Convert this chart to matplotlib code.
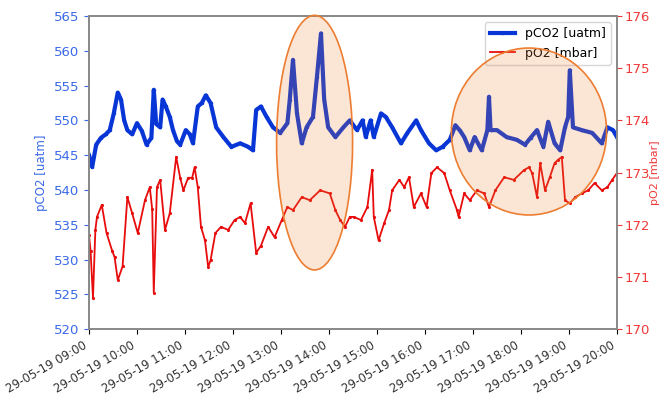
"""pCO2 / pO2 time series on 29-05-19 with highlighted events."""

import matplotlib as mpl
import matplotlib.dates as mdates
import matplotlib.pyplot as plt
import pandas as pd
from matplotlib.patches import Ellipse

mpl.rcdefaults()

# %% data (minutes after 09:00)
t0 = pd.Timestamp("2019-05-29 09:00")

co2_min = [0, 4, 9, 15, 21, 26, 31, 36, 40, 44, 48, 54, 60, 66, 72, 78, 81, 84, 89, 92,
           96, 101, 105, 110, 114, 121, 126, 130, 136, 141, 146, 152, 159, 168, 178, 189,
           199, 205, 209, 215, 222, 230, 239, 248, 251, 255, 260, 266, 272, 280, 285, 290,
           294, 299, 308, 318, 326, 335, 342, 346, 352, 356, 365, 371, 379, 390, 398, 409,
           415, 425, 434, 442, 451, 458, 464, 469, 476, 482, 491, 498, 500, 502, 510, 522,
           535, 545, 552, 560, 568, 574, 582, 589, 595, 599, 601, 605, 616, 629, 641, 648,
           655, 660]
pco2 = [545.0, 543.3, 546.5, 547.5, 548.0, 548.6, 551.0, 554.0, 553.0, 550.0, 548.6, 548.0,
        549.6, 548.5, 546.5, 547.5, 554.4, 549.5, 549.0, 553.0, 552.0, 550.5, 548.6, 547.0,
        546.5, 548.6, 548.0, 546.7, 552.0, 552.5, 553.6, 552.5, 549.0, 547.6, 546.2, 546.7,
        546.2, 545.7, 551.5, 552.0, 550.5, 549.0, 548.2, 549.6, 553.0, 558.7, 551.0, 546.7,
        549.0, 550.5, 556.3, 562.5, 553.0, 549.0, 547.6, 549.0, 550.0, 548.6, 550.0, 547.6,
        550.0, 547.6, 551.0, 550.5, 549.0, 546.7, 548.2, 550.0, 548.6, 546.7, 545.7, 546.2,
        547.2, 549.3, 548.5, 547.6, 545.7, 547.6, 545.7, 548.6, 553.4, 548.6, 548.6, 547.6,
        547.2, 546.5, 547.5, 548.6, 546.2, 549.8, 546.7, 545.7, 549.0, 550.5, 557.2, 549.0,
        548.6, 548.2, 546.7, 549.0, 548.6, 547.6]

o2_min = [0, 2, 5, 8, 10, 16, 22, 29, 32, 36, 42, 48, 54, 61, 70, 76, 79, 81, 85, 89, 95,
          101, 109, 114, 118, 124, 129, 132, 136, 140, 145, 149, 152, 158, 165, 174, 182,
          189, 195, 202, 209, 215, 224, 232, 241, 248, 255, 266, 276, 289, 301, 308, 314,
          320, 326, 331, 340, 348, 354, 356, 362, 369, 375, 379, 388, 394, 400, 406, 415,
          422, 428, 435, 444, 451, 460, 462, 469, 476, 485, 494, 500, 508, 519, 531, 544,
          550, 554, 560, 564, 570, 576, 582, 586, 591, 595, 601, 608, 616, 624, 632, 641,
          648, 654, 660]
po2 = [171.8, 171.5, 170.6, 171.9, 172.15, 172.38, 171.84, 171.5, 171.38, 170.94, 171.2,
       172.53, 172.22, 171.84, 172.47, 172.72, 172.3, 170.7, 172.72, 172.86, 171.9, 172.22,
       173.3, 172.9, 172.66, 172.9, 172.9, 173.1, 172.72, 171.96, 171.7, 171.19, 171.32,
       171.84, 171.96, 171.9, 172.09, 172.15, 172.03, 172.41, 171.46, 171.6, 171.96, 171.76,
       172.09, 172.34, 172.28, 172.53, 172.47, 172.66, 172.6, 172.28, 172.09, 171.96, 172.15,
       172.15, 172.09, 172.34, 173.05, 172.15, 171.7, 172.03, 172.28, 172.66, 172.86, 172.72,
       172.91, 172.34, 172.6, 172.34, 172.99, 173.1, 172.99, 172.66, 172.28, 172.15, 172.6,
       172.47, 172.66, 172.6, 172.34, 172.66, 172.91, 172.86, 173.05, 173.1, 172.99, 172.53,
       173.18, 172.66, 172.91, 173.18, 173.24, 173.3, 172.47, 172.41, 172.53, 172.6, 172.66,
       172.8, 172.66, 172.72, 172.86, 172.99]

# highlighted events: (centre minutes, centre pCO2, width minutes, height pCO2)
events_min = [282, 550]
events_co2 = [546.8, 548.4]
events_w = [95, 194]
events_h = [36.6, 24.0]

t_co2 = t0 + pd.to_timedelta(co2_min, unit="min")
t_o2 = t0 + pd.to_timedelta(o2_min, unit="min")

# %% plot
fig = plt.figure(figsize=(6.62, 3.96), dpi=100)
ax = fig.add_axes([0.1344, 0.169, 0.7976, 0.7905])
ax2 = ax.twinx()

blue, red = "#0836d6", "#e80c0c"
l1, = ax.plot(t_co2, pco2, color=blue, lw=3.0, marker=".", ms=3, label="pCO2 [uatm]")
l2, = ax2.plot(t_o2, po2, color=red, lw=1.3, marker=".", ms=2.5, label="pO2 [mbar]")

ax.set_xlim(t0, t0 + pd.Timedelta(hours=11))
ax.set_ylim(520, 565)
ax2.set_ylim(170, 176)

ax.xaxis.set_major_locator(mdates.HourLocator())
ax.xaxis.set_major_formatter(mdates.DateFormatter("%d-%m-%y %H:%M"))
plt.setp(ax.get_xticklabels(), rotation=30, ha="right", fontsize=8.5, color="#333333")

ax.set_ylabel("pCO2 [uatm]", color="#3a6ae8", fontsize=8.5)
ax2.set_ylabel("pO2 [mbar]", color="#f03a3a", fontsize=8, labelpad=0)
ax.tick_params(axis="y", colors="#3a6ae8", labelsize=9.5)
ax2.tick_params(axis="y", colors="#f03a3a", labelsize=9.5, pad=2)
for a in (ax, ax2):
    for sp in a.spines.values():
        sp.set_color("#8a8a8a")
        sp.set_linewidth(1.3)

ax2.legend(handles=[l1, l2], loc="upper right", fontsize=9)

for m, c, w, h in zip(events_min, events_co2, events_w, events_h):
    xc = mdates.date2num(t0 + pd.Timedelta(minutes=m))
    ax2.add_patch(Ellipse((xc, c), w / 1440, h, transform=ax.transData,
                          facecolor=(0.93, 0.49, 0.19, 0.2), edgecolor="#ed7d31",
                          lw=1.2, zorder=10, clip_on=False))

fig.savefig("out.png", dpi=100)
